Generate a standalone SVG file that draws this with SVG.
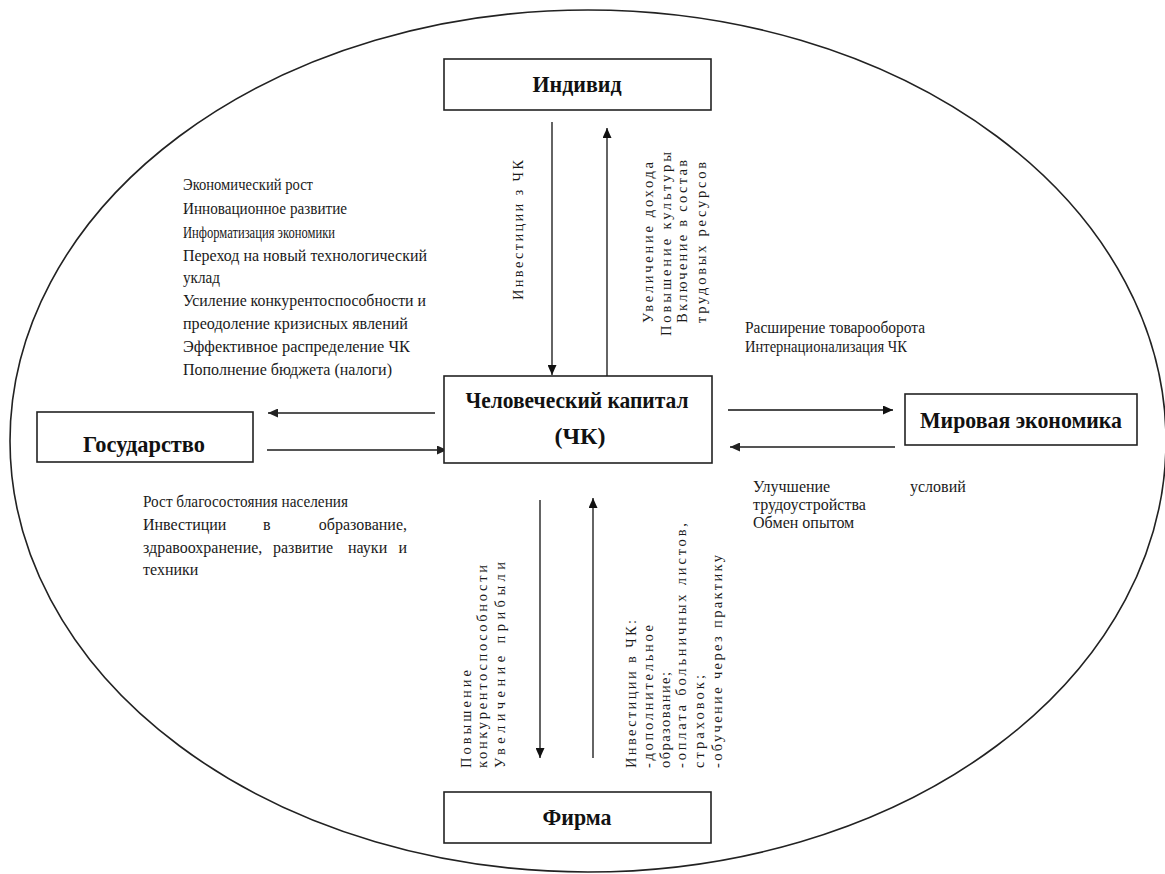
<svg xmlns="http://www.w3.org/2000/svg" width="1165" height="874" viewBox="0 0 1165 874">
<style>
.box{fill:#fff;stroke:#222;stroke-width:1.6}
.title{font-family:'Liberation Serif','DejaVu Serif',serif;font-weight:bold;font-size:24px;fill:#111;text-anchor:middle}
.lbl{font-family:'Liberation Serif','DejaVu Serif',serif;font-weight:normal;font-size:16px;fill:#1a1a1a}
.rot{font-family:'Liberation Serif','DejaVu Serif',serif;font-weight:normal;font-size:14.5px;fill:#1a1a1a}
.thin{stroke:#111;stroke-width:1.3;fill:none}
.gray{stroke:#555;stroke-width:2.2;fill:none}
</style>
<defs>
<marker id="ahb" markerUnits="userSpaceOnUse" markerWidth="10" markerHeight="9" refX="10" refY="4.5" orient="auto">
<path d="M0,0 L10,4.5 L0,9 z" fill="#111"/>
</marker>
<marker id="ahg" markerUnits="userSpaceOnUse" markerWidth="10" markerHeight="9" refX="10" refY="4.5" orient="auto">
<path d="M0,0 L10,4.5 L0,9 z" fill="#222"/>
</marker>
</defs>
<rect width="1165" height="874" fill="#fff"/>
<ellipse cx="588" cy="441" rx="578" ry="431" fill="none" stroke="#222" stroke-width="1.6"/>

<g id="connectors">
<line class="thin" x1="552" y1="122" x2="552" y2="375" marker-end="url(#ahb)"/>
<line class="thin" x1="607" y1="377" x2="607" y2="128" marker-end="url(#ahb)"/>
<line class="gray" x1="435" y1="413" x2="268" y2="413" marker-end="url(#ahg)"/>
<line class="gray" x1="267" y1="450" x2="447" y2="450" marker-end="url(#ahg)"/>
<line class="thin" x1="728" y1="410" x2="893" y2="410" marker-end="url(#ahb)"/>
<line class="gray" x1="895" y1="447" x2="730" y2="447" marker-end="url(#ahg)"/>
<line class="thin" x1="540" y1="500" x2="540" y2="758" marker-end="url(#ahb)"/>
<line class="thin" x1="593" y1="758" x2="593" y2="498" marker-end="url(#ahb)"/>
</g>

<g id="node-individ">
<rect class="box" x="444" y="59" width="267" height="51"/>
<text class="title" x="577" y="92" textLength="89" lengthAdjust="spacingAndGlyphs">Индивид</text>
</g>

<g id="node-chk">
<rect class="box" x="444" y="376" width="268" height="87"/>
<text class="title" x="577" y="408" textLength="223" lengthAdjust="spacingAndGlyphs">Человеческий капитал</text>
<text class="title" x="580" y="444">(ЧК)</text>
</g>

<g id="node-gos">
<rect class="box" x="37" y="412" width="216" height="50"/>
<text class="title" x="144" y="452" textLength="122" lengthAdjust="spacingAndGlyphs">Государство</text>
</g>

<g id="node-mir">
<rect class="box" x="905" y="394" width="232" height="51"/>
<text class="title" x="1021" y="428" textLength="202" lengthAdjust="spacingAndGlyphs">Мировая экономика</text>
</g>

<g id="node-firma">
<rect class="box" x="444" y="792" width="267" height="51"/>
<text class="title" x="577" y="825" textLength="69" lengthAdjust="spacingAndGlyphs">Фирма</text>
</g>

<g id="labels">
<text class="lbl" x="183" y="190" textLength="130" lengthAdjust="spacingAndGlyphs">Экономический рост</text>
<text class="lbl" x="183" y="214" textLength="164" lengthAdjust="spacingAndGlyphs">Инновационное развитие</text>
<text class="lbl" x="183" y="238" font-size="14.5" textLength="152" lengthAdjust="spacingAndGlyphs">Информатизация экономики</text>
<text class="lbl" x="183" y="261" textLength="244" lengthAdjust="spacingAndGlyphs">Переход на новый технологический</text>
<text class="lbl" x="183" y="283" textLength="37" lengthAdjust="spacingAndGlyphs">уклад</text>
<text class="lbl" x="183" y="306" textLength="243" lengthAdjust="spacingAndGlyphs">Усиление конкурентоспособности и</text>
<text class="lbl" x="183" y="329" textLength="225" lengthAdjust="spacingAndGlyphs">преодоление кризисных явлений</text>
<text class="lbl" x="183" y="352" textLength="227" lengthAdjust="spacingAndGlyphs">Эффективное распределение ЧК</text>
<text class="lbl" x="183" y="375" textLength="209" lengthAdjust="spacingAndGlyphs">Пополнение бюджета (налоги)</text>

<text class="lbl" x="745" y="333" textLength="180" lengthAdjust="spacingAndGlyphs">Расширение товарооборота</text>
<text class="lbl" x="745" y="352" textLength="162" lengthAdjust="spacingAndGlyphs">Интернационализация ЧК</text>

<text class="lbl" x="143" y="507" textLength="205" lengthAdjust="spacingAndGlyphs">Рост благосостояния населения</text>
<text class="lbl" x="143" y="530">Инвестиции</text>
<text class="lbl" x="263" y="530">в</text>
<text class="lbl" x="407" y="530" text-anchor="end">образование,</text>
<text class="lbl" x="143" y="553">здравоохранение,</text>
<text class="lbl" x="273" y="553">развитие</text>
<text class="lbl" x="348" y="553">науки</text>
<text class="lbl" x="407" y="553" text-anchor="end">и</text>
<text class="lbl" x="143" y="575">техники</text>

<text class="lbl" x="753" y="492">Улучшение</text>
<text class="lbl" x="910" y="492">условий</text>
<text class="lbl" x="753" y="510">трудоустройства</text>
<text class="lbl" x="753" y="528">Обмен опытом</text>

<text class="rot" transform="translate(523,300) rotate(-90)" textLength="140" lengthAdjust="spacing">Инвестиции з ЧК</text>
<text class="rot" transform="translate(653,323) rotate(-90)" textLength="161" lengthAdjust="spacing">Увеличение дохода</text>
<text class="rot" transform="translate(671,336) rotate(-90)" textLength="184" lengthAdjust="spacing">Повышение культуры</text>
<text class="rot" transform="translate(687,323) rotate(-90)" textLength="163" lengthAdjust="spacing">Включение в состав</text>
<text class="rot" transform="translate(706,323) rotate(-90)" textLength="161" lengthAdjust="spacing">трудовых ресурсов</text>

<text class="rot" transform="translate(471,768) rotate(-90)" textLength="98" lengthAdjust="spacing">Повышение</text>
<text class="rot" transform="translate(487,768) rotate(-90)" textLength="203" lengthAdjust="spacing">конкурентоспособности</text>
<text class="rot" transform="translate(505,768) rotate(-90)" textLength="206" lengthAdjust="spacing">Увеличение прибыли</text>

<text class="rot" transform="translate(636,768) rotate(-90)" textLength="148" lengthAdjust="spacing">Инвестиции в ЧК:</text>
<text class="rot" transform="translate(653,768) rotate(-90)" textLength="143" lengthAdjust="spacing">-дополнительное</text>
<text class="rot" transform="translate(670,768) rotate(-90)" textLength="96" lengthAdjust="spacing">образование;</text>
<text class="rot" transform="translate(686,768) rotate(-90)" textLength="245" lengthAdjust="spacing">-оплата больничных листов,</text>
<text class="rot" transform="translate(704,768) rotate(-90)" textLength="93" lengthAdjust="spacing">страховок;</text>
<text class="rot" transform="translate(722,768) rotate(-90)" textLength="213" lengthAdjust="spacing">-обучение через практику</text>
</g>
</svg>
